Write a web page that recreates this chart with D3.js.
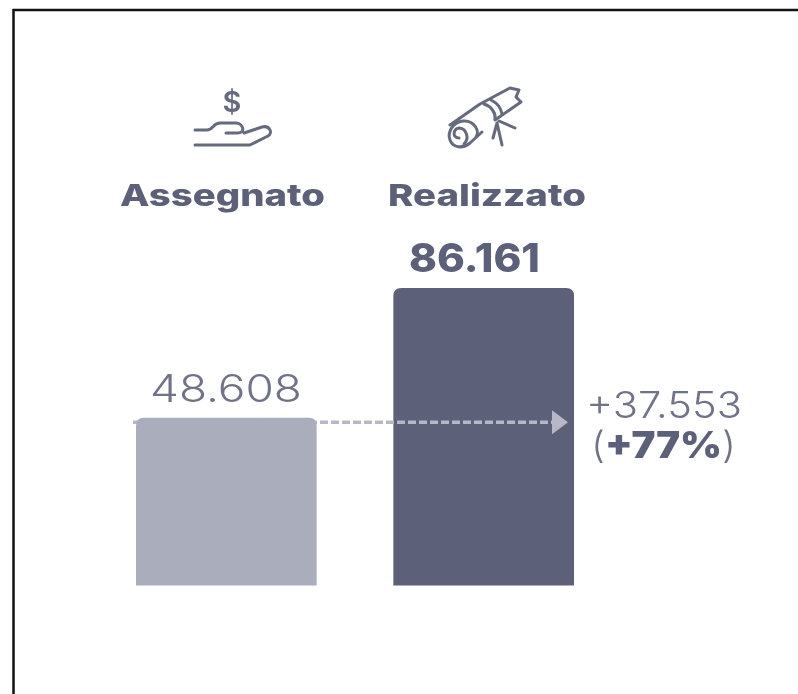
<!DOCTYPE html>
<html><head><meta charset="utf-8">
<script src="https://cdn.jsdelivr.net/npm/d3@7"></script>
<style>html,body{margin:0;padding:0;background:#fff}svg{display:block}text{font-family:Inter,"Noto Sans",sans-serif}</style>
</head><body><svg id="c" width="798" height="694"></svg>
<script>
const categories = ["Assegnato", "Realizzato"];
const values = [48608, 86161];
const valueLabels = ["48.608", "86.161"];
const deltaLabel = "+37.553";
const pctLabel = "+77%";
const colors = ["#a9adbc", "#5c6079"];
const ink = "#5c6079";
const soft = "#6f7287";

const svg = d3.select("#c");
svg.append("rect").attr("width",798).attr("height",694).attr("fill","#fff");
svg.append("path").attr("d","M13.5 694V10H798").attr("fill","none").attr("stroke","#111").attr("stroke-width",2.5);

const defs = svg.append("defs");
defs.append("filter").attr("id","soft").attr("x","-5%").attr("y","-5%").attr("width","110%").attr("height","110%")
  .append("feGaussianBlur").attr("stdDeviation",0.6);
const root = svg.append("g").attr("filter","url(#soft)");

const x = d3.scaleBand().domain(categories).range([136,574]).paddingInner(0.298);
const y = d3.scaleLinear().domain([0,86161]).range([585.5,288]);

function topRounded(xp,yp,w,h,r){return `M${xp} ${yp+h}V${yp+r}Q${xp} ${yp} ${xp+r} ${yp}H${xp+w-r}Q${xp+w} ${yp} ${xp+w} ${yp+r}V${yp+h}Z`;}
const bar = (i) => root.append("path").attr("fill",colors[i])
  .attr("d",topRounded(x(categories[i]),y(values[i]),x.bandwidth(),y(0)-y(values[i]),8));

bar(1);
const ay = y(values[0])+4.5;
root.append("line").attr("x1",x(categories[0])-3).attr("x2",553).attr("y1",ay).attr("y2",ay)
 .attr("stroke","#b6b8c7").attr("stroke-width",3.5).attr("stroke-dasharray","8 3");
root.append("path").attr("d",`M552 ${ay-12}L568 ${ay}L552 ${ay+12}Z`).attr("fill","#b6b8c7");
bar(0);

function label(tx,ty,len,size,weight,fill,str){
  return root.append("text").attr("x",tx).attr("y",ty).attr("font-size",size).attr("font-weight",weight)
    .attr("fill",fill).attr("textLength",len).attr("lengthAdjust","spacingAndGlyphs").text(str);
}
label(120,206,205,30,800,ink,categories[0]);
label(388,206,198,30,800,ink,categories[1]);
label(150,402,152,38,300,soft,valueLabels[0]);
label(409,272,131,39,800,ink,valueLabels[1]);
label(586,418,156,37,300,soft,deltaLabel);
const t = root.append("text").attr("x",591).attr("y",458).attr("font-size",37).attr("fill",soft)
  .attr("textLength",145).attr("lengthAdjust","spacingAndGlyphs");
t.append("tspan").attr("font-weight",300).text("(");
t.append("tspan").attr("font-weight",900).attr("fill",ink).text(pctLabel);
t.append("tspan").attr("font-weight",300).text(")");

// icons
const ic = root.append("g").attr("fill","none").attr("stroke","#666a7e").attr("stroke-width",3).attr("stroke-linecap","round").attr("stroke-linejoin","round");
root.append("text").attr("x",232).attr("y",112).attr("text-anchor","middle").attr("font-size",29).attr("font-weight",600).attr("fill","#666a7e").text("$");
ic.append("path").attr("d","M195 130H207C213 130 213 123 220 123H236C243 123 246 133 238 133H226M244 133L262 127C270 125 273 133 268 136L250 145H195");
ic.append("path").attr("d","M450 125L480 104L510 88L519 90L516 97L521 102L495 120");
ic.append("path").attr("d","M476 137C480 132 475 120 463 121C453 122 447 132 450 140C453 148 463 149 470 143L482 132");
ic.append("path").attr("d","M464 144C470 138 466 128 459 128C453 129 452 138 459 138");
ic.append("path").attr("d","M484 104C491 106 496 113 495 119M491 100C497 103 501 108 502 114");
ic.append("path").attr("d","M497 123L493 138M497 123L502 145M499 121L515 128");
</script></body></html>
